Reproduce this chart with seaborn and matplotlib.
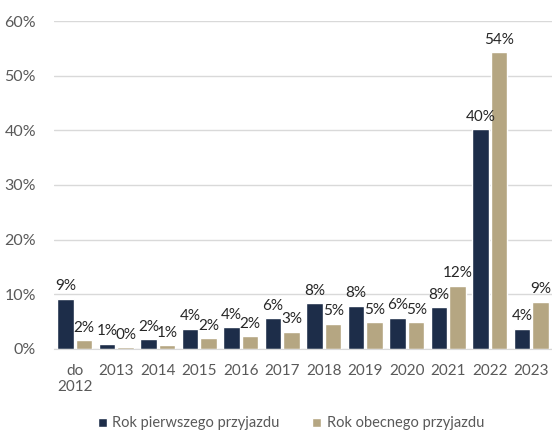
import pandas as pd
import seaborn as sns
import matplotlib.pyplot as plt

# dane (w %)
years = ['do\n2012', '2013', '2014', '2015', '2016', '2017', '2018',
         '2019', '2020', '2021', '2022', '2023']
first_arrival = [9.2, 1.0, 1.8, 3.7, 4.0, 5.6, 8.35, 7.9, 5.7, 7.6, 40.2, 3.7]
current_arrival = [1.6, 0.35, 0.7, 2.0, 2.3, 3.2, 4.6, 4.9, 4.9, 11.6, 54.3, 8.65]
series_names = ['Rok pierwszego przyjazdu', 'Rok obecnego przyjazdu']
colors = ['#162B50', '#BDAA79']

df = pd.DataFrame({
    'rok': years * 2,
    'wartosc': first_arrival + current_arrival,
    'seria': [series_names[0]] * len(years) + [series_names[1]] * len(years),
})

sns.set_style('white')
plt.rcParams['font.family'] = ['Lato', 'DejaVu Sans']

fig = plt.figure(figsize=(5.52, 4.33), dpi=100)
ax = fig.add_axes([0.098, 0.194, 0.902, 0.7575])

sns.barplot(data=df, x='rok', y='wartosc', hue='seria', palette=colors,
            width=0.9, gap=0.12, ax=ax)

ax.set_ylim(0, 60)
ax.set_yticks(range(0, 61, 10))
ax.set_yticklabels([f'{t}%' for t in range(0, 61, 10)])
ax.set_xlim(-0.5, len(years) - 0.5)
ax.yaxis.grid(True, color='#D9D9D9', linewidth=1)
ax.set_axisbelow(True)
for s in ['top', 'right', 'left']:
    ax.spines[s].set_visible(False)
ax.spines['bottom'].set_color('#D9D9D9')
ax.tick_params(axis='both', colors='#595959', labelsize=11.5, length=0)
ax.tick_params(axis='x', labelsize=11, pad=11)
ax.tick_params(axis='y', pad=13)
ax.set_xlabel('')
ax.set_ylabel('')

# etykiety danych
for cont in ax.containers:
    ax.bar_label(cont, labels=[f'{b.get_height():.0f}%' for b in cont],
                 padding=4, fontsize=11, color='#262626')

handles, labels = ax.get_legend_handles_labels()
ax.get_legend().remove()
fig.legend(handles, labels, loc='center', bbox_to_anchor=(0.527, 0.022),
           ncol=2, frameon=False, fontsize=10.5, labelcolor='#595959',
           handlelength=0.6, handleheight=0.6, handletextpad=0.4,
           columnspacing=2.2)

plt.savefig('out.png', dpi=100)
